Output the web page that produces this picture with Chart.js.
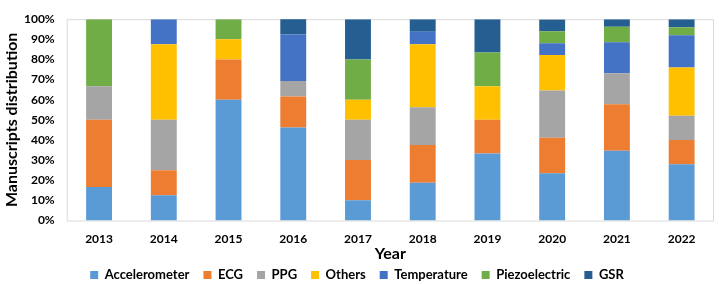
<!DOCTYPE html>
<html>
<head>
<meta charset="utf-8">
<script src="https://cdn.jsdelivr.net/npm/chart.js@4/dist/chart.umd.min.js"></script>
<style>
  html, body { margin: 0; padding: 0; background: #fff; }
  #wrap { width: 722px; height: 284px; }
</style>
</head>
<body>
<div id="wrap"><canvas id="chart" width="722" height="284"></canvas></div>
<script>
const years = ['2013', '2014', '2015', '2016', '2017', '2018', '2019', '2020', '2021', '2022'];

// share of manuscripts per sensor type (%)
const accelerometer = [16.7, 12.5, 60, 46.2, 10, 18.75, 33.3, 23.5, 34.6, 28];
const ecg           = [33.3, 12.5, 20, 15.4, 20, 18.75, 16.7, 17.6, 23.1, 12];
const ppg           = [16.7, 25, 0, 7.7, 20, 18.75, 0, 23.5, 15.4, 12];
const others        = [0, 37.5, 10, 0, 10, 31.25, 16.7, 17.6, 0, 24];
const temperature   = [0, 12.5, 0, 23.1, 0, 6.25, 0, 5.9, 15.4, 16];
const piezoelectric = [33.3, 0, 10, 0, 20, 0, 16.7, 5.9, 7.7, 4];
const gsr           = [0, 0, 0, 7.7, 20, 6.25, 16.6, 5.9, 3.8, 4];

const yTicks = [0, 10, 20, 30, 40, 50, 60, 70, 80, 90, 100];

const series = [
  { label: 'Accelerometer', data: accelerometer, color: '#5B9BD5' },
  { label: 'ECG', data: ecg, color: '#ED7D31' },
  { label: 'PPG', data: ppg, color: '#A5A5A5' },
  { label: 'Others', data: others, color: '#FFC000' },
  { label: 'Temperature', data: temperature, color: '#4472C4' },
  { label: 'Piezoelectric', data: piezoelectric, color: '#70AD47' },
  { label: 'GSR', data: gsr, color: '#255E91' }
];

const FONT = 'Lato, "Open Sans", sans-serif';

// light frame round the plot area, like the spreadsheet chart
const plotFrame = {
  id: 'plotFrame',
  beforeDatasetsDraw(chart) {
    const { ctx, chartArea: a } = chart;
    ctx.save();
    ctx.strokeStyle = '#d9d9d9';
    ctx.lineWidth = 1;
    ctx.strokeRect(a.left + 0.5, a.top + 0.5, a.right - a.left - 1, a.bottom - a.top);
    ctx.restore();
  }
};

new Chart(document.getElementById('chart').getContext('2d'), {
  type: 'bar',
  data: {
    labels: years,
    datasets: series.map(s => ({
      label: s.label,
      data: s.data,
      backgroundColor: s.color,
      borderWidth: 0,
      barPercentage: 0.4,
      categoryPercentage: 1
    }))
  },
  options: {
    responsive: false,
    animation: false,
    layout: { padding: { left: 0, right: 8, top: 10, bottom: 0 } },
    plugins: {
      legend: {
        position: 'bottom',
        maxHeight: 29.5,
        labels: {
          boxWidth: 8,
          boxHeight: 8,
          padding: 14,
          color: '#000',
          font: { family: FONT, size: 13, weight: 'bold' }
        }
      },
      tooltip: { enabled: false }
    },
    scales: {
      x: {
        stacked: true,
        afterFit: axis => { axis.height = 34; },
        grid: { display: false, drawTicks: false },
        border: { display: false },
        ticks: { color: '#000', padding: 11, font: { family: FONT, size: 12, weight: 'bold' } },
        title: {
          display: true,
          text: 'Year',
          color: '#000',
          padding: { top: 0, bottom: -8.5 },
          font: { family: FONT, size: 16, weight: 'bold' }
        }
      },
      y: {
        stacked: true,
        min: 0,
        max: 100,
        afterFit: axis => { axis.width = 66.7; },
        afterBuildTicks: axis => { axis.ticks = yTicks.map(v => ({ value: v })); },
        grid: { display: false, drawTicks: false },
        border: { display: false },
        ticks: {
          autoSkip: false,
          color: '#000',
          padding: 12,
          font: { family: FONT, size: 12, weight: 'bold' },
          callback: v => v + '%'
        },
        title: {
          display: true,
          text: 'Manuscripts distribution',
          color: '#000',
          padding: { top: 2, bottom: 0 },
          font: { family: FONT, size: 16, weight: 'bold' }
        }
      }
    }
  },
  plugins: [plotFrame]
});
</script>
</body>
</html>
